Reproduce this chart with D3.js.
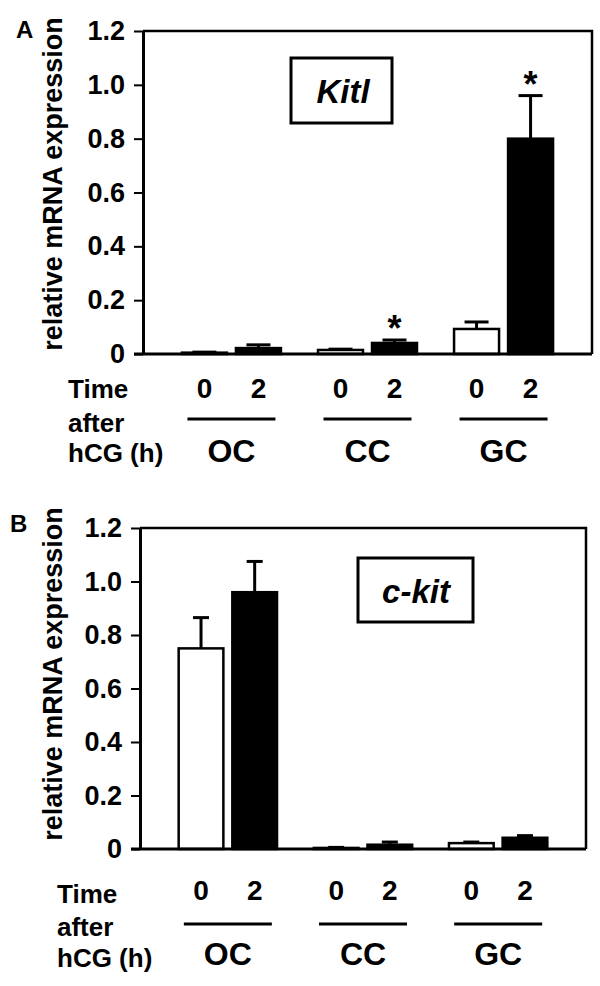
<!DOCTYPE html>
<html>
<head>
<meta charset="utf-8">
<script src="https://cdn.jsdelivr.net/npm/d3@7"></script>
<style>
  body { margin: 0; background: #fff; }
  svg text { font-family: "Liberation Sans", Arial, Helvetica, sans-serif; font-weight: bold; fill: #000; }
</style>
</head>
<body>
<div id="chart"></div>
<script>
// data
const groups = ["OC", "CC", "GC"];
const times = ["0", "2"];
const yTicks = [0, 0.2, 0.4, 0.6, 0.8, 1.0, 1.2];

// Kitl (panel A)
const kitl0h = [0.005, 0.015, 0.093];
const kitl2h = [0.022, 0.041, 0.80];
const kitl0hErr = [0.002, 0.003, 0.026];
const kitl2hErr = [0.012, 0.011, 0.16];
const kitlStar2h = [false, true, true];

// c-kit (panel B)
const ckit0h = [0.75, 0.004, 0.022];
const ckit2h = [0.96, 0.016, 0.042];
const ckit0hErr = [0.115, 0.002, 0.004];
const ckit2hErr = [0.115, 0.01, 0.008];
const ckitStar2h = [false, false, false];

const W = 600, H = 986;

const svg = d3.select('#chart')
    .append('svg')
    .attr('width', W)
    .attr('height', H);

// builds rows for one panel from the arrays above
function rows(m0, m2, e0, e2, s2) {
    const out = [];
    groups.forEach((g, i) => {
        out.push({ group: g, time: "0", mean: m0[i], err: e0[i], star: false });
        out.push({ group: g, time: "2", mean: m2[i], err: e2[i], star: s2[i] });
    });
    return out;
}

const panels = [
    {
        letter: "A", gene: "Kitl",
        data: rows(kitl0h, kitl2h, kitl0hErr, kitl2hErr, kitlStar2h),
        left: 143, right: 592, top: 31, bottom: 354,
        letterX: 16, letterY: 38,
        ylabelX: 62, ylabelY: 184,
        box: { x: 291, y: 58, w: 101, h: 65, tx: 343, ty: 103 },
        capW: 24,
        timeX: 68, timeY: [398, 432, 462],
        digitY: 398, lineY: 419, groupY: 462
    },
    {
        letter: "B", gene: "c-kit",
        data: rows(ckit0h, ckit2h, ckit0hErr, ckit2hErr, ckitStar2h),
        left: 140, right: 586, top: 528, bottom: 849,
        letterX: 10, letterY: 532,
        ylabelX: 62, ylabelY: 674,
        box: { x: 358, y: 558, w: 115, h: 64, tx: 416, ty: 603 },
        capW: 16,
        timeX: 57, timeY: [903, 936, 967],
        digitY: 900, lineY: 924, groupY: 965
    }
];

panels.forEach(p => {
    const g = svg.append('g');

    const y = d3.scaleLinear()
        .domain([0, 1.2])
        .range([p.bottom, p.top]);

    const x0 = d3.scaleBand()
        .domain(groups)
        .range([p.left, p.right])
        .paddingInner(0)
        .paddingOuter(0.15);

    const x1 = d3.scaleBand()
        .domain(times)
        .range([0, x0.bandwidth()])
        .paddingInner(0.167)
        .paddingOuter(0.343);

    // y axis
    const yAxis = d3.axisLeft(y)
        .tickValues(yTicks)
        .tickFormat(d => d === 0 ? "0" : d3.format(".1f")(d))
        .tickSize(9)
        .tickSizeOuter(0)
        .tickPadding(9);

    const ax = g.append('g')
        .attr('transform', `translate(${p.left}, 0)`)
        .call(yAxis);
    ax.select('.domain').attr('stroke-width', 3);
    ax.selectAll('.tick line').attr('stroke-width', 2);
    ax.selectAll('.tick text')
        .style('font-size', '27px')
        .style('font-family', '"Liberation Sans", Arial, sans-serif')
        .style('font-weight', 'bold');

    // frame top and right
    g.append('path')
        .attr('d', `M${p.left},${p.top}H${p.right}V${p.bottom}`)
        .attr('fill', 'none')
        .attr('stroke', '#000')
        .attr('stroke-width', 2.5);

    // bars
    const bx = d => x0(d.group) + x1(d.time);
    g.selectAll('rect.bar')
        .data(p.data)
        .enter()
        .append('rect')
        .attr('class', 'bar')
        .attr('x', bx)
        .attr('y', d => y(d.mean))
        .attr('width', x1.bandwidth())
        .attr('height', d => y(0) - y(d.mean))
        .attr('fill', d => d.time === "0" ? '#fff' : '#000')
        .attr('stroke', '#000')
        .attr('stroke-width', 2.5);

    // error bars (upper only)
    const cx = d => bx(d) + x1.bandwidth() / 2;
    g.selectAll('line.err')
        .data(p.data)
        .enter()
        .append('line')
        .attr('class', 'err')
        .attr('x1', cx).attr('x2', cx)
        .attr('y1', d => y(d.mean))
        .attr('y2', d => y(d.mean + d.err))
        .attr('stroke', '#000')
        .attr('stroke-width', 3);
    g.selectAll('line.cap')
        .data(p.data)
        .enter()
        .append('line')
        .attr('class', 'cap')
        .attr('x1', d => cx(d) - p.capW / 2)
        .attr('x2', d => cx(d) + p.capW / 2)
        .attr('y1', d => y(d.mean + d.err))
        .attr('y2', d => y(d.mean + d.err))
        .attr('stroke', '#000')
        .attr('stroke-width', 3);

    // significance stars
    g.selectAll('text.star')
        .data(p.data.filter(d => d.star))
        .enter()
        .append('text')
        .attr('class', 'star')
        .attr('x', cx)
        .attr('y', d => y(d.mean + d.err) + 1)
        .attr('text-anchor', 'middle')
        .style('font-size', '36px')
        .text('*');

    // zero line
    g.append('line')
        .attr('x1', p.left - 9).attr('x2', p.right)
        .attr('y1', y(0)).attr('y2', y(0))
        .attr('stroke', '#000')
        .attr('stroke-width', 3);

    // gene label box
    g.append('rect')
        .attr('x', p.box.x).attr('y', p.box.y)
        .attr('width', p.box.w).attr('height', p.box.h)
        .attr('fill', '#fff')
        .attr('stroke', '#000')
        .attr('stroke-width', 3);
    g.append('text')
        .attr('x', p.box.tx).attr('y', p.box.ty)
        .attr('text-anchor', 'middle')
        .style('font-size', '33px')
        .style('font-style', 'italic')
        .text(p.gene);

    // panel letter
    g.append('text')
        .attr('x', p.letterX).attr('y', p.letterY)
        .style('font-size', '24px')
        .text(p.letter);

    // y label
    g.append('text')
        .attr('transform', `translate(${p.ylabelX}, ${p.ylabelY}) rotate(-90)`)
        .attr('text-anchor', 'middle')
        .style('font-size', '27px')
        .text('relative mRNA expression');

    // time digits under each bar
    g.selectAll('text.time')
        .data(p.data)
        .enter()
        .append('text')
        .attr('class', 'time')
        .attr('x', cx)
        .attr('y', p.digitY)
        .attr('text-anchor', 'middle')
        .style('font-size', '28px')
        .text(d => d.time);

    // group underline and name
    g.selectAll('line.grp')
        .data(groups)
        .enter()
        .append('line')
        .attr('class', 'grp')
        .attr('x1', d => x0(d) + x0.bandwidth() / 2 - 44)
        .attr('x2', d => x0(d) + x0.bandwidth() / 2 + 44)
        .attr('y1', p.lineY).attr('y2', p.lineY)
        .attr('stroke', '#000')
        .attr('stroke-width', 3);
    g.selectAll('text.grp')
        .data(groups)
        .enter()
        .append('text')
        .attr('class', 'grp')
        .attr('x', d => x0(d) + x0.bandwidth() / 2)
        .attr('y', p.groupY)
        .attr('text-anchor', 'middle')
        .style('font-size', '32px')
        .text(d => d);

    // "Time after hCG (h)"
    ["Time", "after", "hCG (h)"].forEach((t, i) => {
        g.append('text')
            .attr('x', p.timeX)
            .attr('y', p.timeY[i])
            .style('font-size', '26px')
            .text(t);
    });
});
</script>
</body>
</html>
